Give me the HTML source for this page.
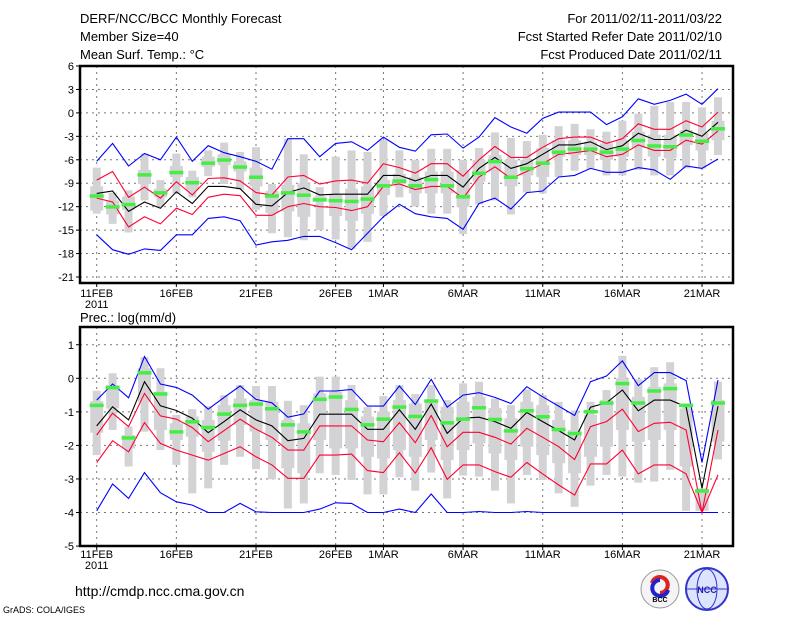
<!DOCTYPE html>
<html><head><meta charset="utf-8"><style>
html,body{margin:0;padding:0;background:#fff;}
svg{display:block;font-family:"Liberation Sans",sans-serif;}
</style></head><body>
<svg id="c" width="800" height="618" viewBox="0 0 800 618">
<rect width="800" height="618" fill="#fff"/>
<g font-size="13" fill="#000">
<text x="80" y="23">DERF/NCC/BCC Monthly Forecast</text>
<text x="80" y="41">Member Size=40</text>
<text x="80" y="59">Mean Surf. Temp.: °C</text>
<text x="722" y="23" text-anchor="end">For 2011/02/11-2011/03/22</text>
<text x="722" y="41" text-anchor="end">Fcst Started Refer Date 2011/02/10</text>
<text x="722" y="59" text-anchor="end">Fcst Produced Date 2011/02/11</text>
<text x="80" y="322">Prec.: log(mm/d)</text>
<text x="75" y="596" font-size="14">http://cmdp.ncc.cma.gov.cn</text>
<text x="3" y="613" font-size="9">GrADS: COLA/IGES</text>
</g>
<g>
<circle cx="660" cy="589" r="19" fill="#f4f4f4" stroke="#999"/>
<path d="M652 583 a8 8 0 1 1 8 10" fill="none" stroke="#d22" stroke-width="4"/>
<path d="M668 590 a8 8 0 1 1 -8 -10" fill="none" stroke="#22c" stroke-width="4"/>
<text x="660" y="602" font-size="7" text-anchor="middle" font-weight="bold">BCC</text>
</g>
<g>
<circle cx="707" cy="589" r="21" fill="#dde4ff" stroke="#33c" stroke-width="2"/>
<ellipse cx="707" cy="589" rx="10" ry="20" fill="none" stroke="#33c"/>
<line x1="687" y1="589" x2="727" y2="589" stroke="#33c"/>
<text x="707" y="593" font-size="9" text-anchor="middle" fill="#22a" font-weight="bold">NCC</text>
</g>
<g id="top"></g>
<g id="bot"></g>
</svg>
<script>
const dayLabels=["11FEB","16FEB","21FEB","26FEB","1MAR","6MAR","11MAR","16MAR","21MAR"];
const dayTicks=[0,5,10,15,18,23,28,33,38];
const tempTicks=[6,3,0,-3,-6,-9,-12,-15,-18,-21];
const precTicks=[1,0,-1,-2,-3,-4,-5];
const tMean=[-10.3,-10.0,-12.6,-11.4,-12.2,-10.1,-11.6,-9.4,-9.4,-9.7,-11.7,-11.9,-10.2,-9.6,-10.5,-10.4,-10.4,-10.4,-8.0,-8.0,-8.7,-8.0,-8.0,-9.5,-7.1,-5.7,-7.1,-6.5,-5.3,-4.1,-4.1,-3.7,-4.7,-4.2,-2.6,-3.4,-3.4,-2.2,-3.0,-1.2];
const tRedHi=[-8.6,-7.5,-10.8,-9.5,-10.9,-8.8,-10.5,-8.4,-8.3,-8.7,-10.2,-10.5,-8.2,-8.0,-9.1,-8.7,-8.6,-9.0,-6.5,-7.0,-7.7,-6.5,-6.5,-8.1,-6.0,-4.3,-5.7,-5.7,-4.4,-3.3,-3.1,-3.1,-3.9,-3.3,-1.4,-2.1,-2.1,-1.0,-1.8,0.1];
const tRedLo=[-10.9,-11.4,-14.6,-13.3,-14.2,-12.2,-13.0,-10.8,-10.4,-10.6,-13.1,-13.1,-12.0,-11.6,-12.0,-12.1,-12.5,-12.0,-9.4,-9.1,-9.8,-9.4,-9.4,-10.9,-8.2,-6.9,-8.4,-7.5,-6.5,-5.3,-5.1,-4.8,-5.6,-5.3,-4.1,-4.8,-4.8,-3.5,-4.0,-2.3];
const tMax=[-6.2,-3.9,-6.8,-5.2,-6.0,-3.1,-6.2,-4.2,-5.1,-5.6,-6.2,-7.2,-3.3,-3.3,-5.6,-3.9,-3.7,-4.8,-3.1,-4.4,-4.9,-2.8,-2.7,-4.5,-3.1,-0.6,-1.8,-2.6,-0.7,0.1,0.1,0.1,-1.5,-0.5,1.8,1.1,1.6,2.4,1.1,3.1];
const tMin=[-15.6,-17.5,-18.1,-17.4,-17.6,-15.6,-15.6,-13.5,-13.3,-13.8,-16.9,-16.5,-16.3,-15.8,-15.8,-16.6,-17.5,-15.4,-13.3,-11.7,-12.9,-13.3,-13.5,-14.9,-11.6,-10.9,-12.3,-10.2,-10.0,-8.2,-8.0,-7.1,-7.6,-7.6,-7.0,-7.3,-8.5,-6.8,-7.1,-5.9];
const tObs=[-10.6,-12.0,-11.7,-7.9,-10.2,-7.6,-8.9,-6.4,-6.0,-6.9,-8.2,-10.6,-10.2,-10.5,-11.1,-11.2,-11.3,-11.0,-9.3,-8.7,-9.3,-8.5,-9.3,-10.7,-7.7,-6.2,-8.2,-7.1,-6.4,-5.0,-4.6,-4.6,-5.0,-4.6,-3.5,-4.2,-4.3,-2.8,-3.6,-2.0];
const tWhiskHi=[-7.0,-10.2,-9.9,-5.2,-8.6,-5.2,-7.4,-4.8,-3.8,-5.0,-4.4,-9.1,-3.3,-5.3,-9.5,-5.6,-4.8,-5.0,-3.4,-4.8,-6.0,-4.6,-4.6,-6.0,-4.5,-2.5,-3.2,-3.6,-2.8,-1.7,-1.4,-2.1,-2.4,-1.0,-0.1,0.9,1.4,1.4,0.7,2.0];
const tBoxHi=[-9.4,-11.2,-10.7,-7.3,-9.7,-6.8,-8.2,-5.6,-5.3,-6.2,-7.0,-10.0,-9.2,-9.0,-10.7,-10.5,-9.7,-9.4,-8.6,-7.8,-8.2,-7.5,-7.5,-7.3,-6.0,-5.4,-6.0,-6.0,-4.5,-3.5,-3.5,-3.7,-3.9,-3.5,-2.4,-2.8,-2.8,-2.2,-2.6,-1.0];
const tBoxLo=[-12.5,-13.0,-12.4,-9.1,-10.8,-8.2,-9.9,-6.9,-6.7,-7.5,-9.4,-12.8,-12.6,-13.3,-11.2,-13.2,-13.8,-12.9,-10.5,-9.1,-10.3,-10.3,-10.3,-12.0,-8.8,-7.5,-9.4,-8.0,-8.2,-5.6,-5.4,-5.4,-6.0,-5.6,-4.5,-5.6,-5.8,-4.1,-4.8,-3.5];
const tWhiskLo=[-12.9,-14.2,-15.3,-11.2,-12.0,-10.3,-10.8,-8.1,-9.1,-9.8,-12.4,-15.4,-15.9,-16.3,-15.0,-16.2,-17.4,-16.5,-13.2,-10.8,-12.0,-12.9,-12.9,-15.5,-11.7,-11.2,-13.0,-10.2,-10.3,-8.2,-7.4,-7.2,-8.0,-8.0,-7.3,-8.0,-8.0,-7.1,-7.1,-5.4];
const pMean=[-1.42,-0.85,-1.24,-0.10,-0.82,-0.96,-1.19,-1.62,-1.29,-0.94,-1.24,-1.42,-1.86,-1.79,-1.07,-1.07,-1.07,-1.52,-1.52,-0.94,-1.52,-0.77,-1.64,-1.19,-1.16,-1.29,-1.49,-1.02,-1.29,-1.56,-1.84,-0.86,-0.73,-0.35,-0.97,-0.65,-0.65,-0.85,-3.28,-0.83];
const pRedHi=[-1.69,-1.04,-1.44,-0.45,-1.12,-1.22,-1.47,-1.89,-1.56,-1.22,-1.52,-1.76,-2.14,-2.14,-1.42,-1.42,-1.42,-1.84,-1.89,-1.32,-1.92,-1.11,-2.04,-1.61,-1.61,-1.76,-1.96,-1.49,-1.76,-2.04,-2.42,-1.44,-1.29,-0.92,-1.59,-1.34,-1.31,-1.54,-4.0,-1.54];
const pRedLo=[-2.51,-1.86,-2.19,-1.32,-1.94,-2.14,-2.29,-2.44,-2.24,-2.04,-2.34,-2.58,-2.98,-2.98,-2.29,-2.29,-2.26,-2.75,-2.81,-2.22,-2.83,-2.07,-3.01,-2.58,-2.58,-2.78,-2.95,-2.51,-2.85,-3.18,-3.48,-2.55,-2.55,-2.14,-2.85,-2.58,-2.58,-2.85,-4.0,-2.88];
const pMax=[-0.65,-0.17,-0.58,0.65,-0.17,-0.27,-0.50,-0.92,-0.57,-0.23,-0.63,-0.73,-1.16,-1.06,-0.38,-0.38,-0.33,-0.83,-0.83,-0.23,-0.78,-0.03,-0.86,-0.50,-0.43,-0.57,-0.75,-0.25,-0.55,-0.83,-1.11,-0.10,0.07,0.52,-0.22,0.17,0.17,-0.07,-2.51,-0.05];
const pMin=[-3.95,-3.15,-3.58,-2.81,-3.41,-3.68,-3.78,-4.0,-4.0,-3.73,-3.98,-4.0,-4.0,-4.0,-3.9,-3.71,-3.73,-4.0,-4.0,-3.9,-4.0,-3.45,-4.0,-4.0,-3.97,-4.0,-4.0,-3.97,-4.0,-4.0,-4.0,-4.0,-4.0,-4.0,-4.0,-4.0,-4.0,-4.0,-4.0,-4.0];
const pObs=[-0.80,-0.27,-1.77,0.17,-0.46,-1.59,-1.29,-1.46,-1.06,-0.80,-0.76,-0.90,-1.38,-1.59,-0.62,-0.55,-0.92,-1.38,-1.21,-0.85,-1.13,-0.67,-1.32,-1.21,-0.87,-1.22,-1.56,-0.96,-1.14,-1.52,-1.64,-0.99,-0.73,-0.15,-0.73,-0.37,-0.30,-0.80,-3.35,-0.73];
const pWhiskHi=[-0.37,0.15,-1.44,0.63,0.30,-1.09,-0.92,-0.83,-0.50,-0.20,-0.23,-0.23,-0.67,-0.80,0.05,0.05,-0.20,-0.86,-0.53,-0.20,-0.47,-0.20,-0.65,-0.15,-0.10,-0.60,-0.80,-0.33,-0.50,-0.70,-0.96,-0.70,-0.35,0.67,-0.03,0.33,0.48,-0.75,-3.28,-0.10];
const pBoxHi=[-0.68,-0.20,-1.69,0.30,-0.40,-1.34,-1.14,-1.24,-0.80,-0.60,-0.65,-0.70,-1.24,-1.34,-0.45,-0.40,-0.65,-1.14,-0.99,-0.65,-0.75,-0.65,-0.85,-0.70,-0.55,-0.89,-1.19,-0.70,-0.80,-1.24,-1.54,-1.09,-0.65,0.0,-0.55,-0.25,-0.15,-0.90,-3.30,-0.65];
const pBoxLo=[-1.62,-0.90,-2.09,-0.70,-1.54,-1.84,-1.74,-2.19,-1.86,-1.39,-1.59,-1.84,-2.68,-2.83,-1.84,-2.09,-2.09,-2.34,-2.39,-2.14,-2.34,-1.84,-2.44,-2.14,-1.94,-2.24,-2.44,-2.04,-2.29,-2.53,-2.83,-2.34,-2.04,-1.54,-1.89,-1.84,-1.54,-2.63,-3.95,-1.89];
const pWhiskLo=[-2.29,-1.54,-2.63,-1.59,-2.14,-2.58,-3.43,-3.28,-2.58,-2.34,-2.71,-3.01,-3.88,-3.73,-2.83,-2.88,-3.03,-3.46,-3.46,-2.95,-3.35,-2.81,-3.58,-2.90,-2.93,-3.35,-3.73,-2.88,-3.03,-3.43,-3.83,-3.20,-2.88,-2.93,-3.11,-3.08,-2.73,-3.95,-3.95,-2.42];

const NS='http://www.w3.org/2000/svg';
const X0=80,X1=733;
const xD=d=>96.7+15.93*d;
function mk(p,tag,a){const e=document.createElementNS(NS,tag);for(const k in a)e.setAttribute(k,a[k]);p.appendChild(e);return e;}
function panel(g,top,bot,yv,ticks,data,lblY){
  // grid
  ticks.forEach(t=>{const y=yv(t);
    if(y>top+1&&y<bot-1){const l=mk(g,'line',{x1:X0,x2:X1,y1:y,y2:y,stroke:'#777','stroke-dasharray':'2,4','stroke-width':1});
    
    }
    const tk=mk(g,'line',{x1:X0-4,x2:X0,y1:y,y2:y,stroke:'#000'});
    
    
    const tx=mk(g,'text',{x:X0-6,y:y+4,'text-anchor':'end','font-size':11});
    tx.textContent=t;
    
    
  });
  dayTicks.forEach((d,i)=>{const x=xD(d);
    const l=mk(g,'line',{x1:x,x2:x,y1:top,y2:bot,stroke:'#777','stroke-dasharray':'2,4'});
    
    
    const tk=mk(g,'line',{x1:x,x2:x,y1:bot,y2:bot+4,stroke:'#000'});
    
    
    const tx=mk(g,'text',{x:x,y:lblY,'text-anchor':'middle','font-size':11});
    tx.textContent=dayLabels[i];
    
    
  });
  const yr=mk(g,'text',{x:xD(0),y:lblY+11,'text-anchor':'middle','font-size':11});
  yr.textContent='2011';
  
  
  // boxes
  for(let d=0;d<40;d++){const x=xD(d);
    const w=mk(g,'rect',{x:x-4,width:8,y:yv(data.wh[d]),height:Math.max(1,yv(data.wl[d])-yv(data.wh[d])),fill:'#d3d3d6'});
    
    
    const b=mk(g,'rect',{x:x-6.5,width:13,y:yv(data.bh[d]),height:Math.max(1,yv(data.bl[d])-yv(data.bh[d])),fill:'#d3d3d6'});
    
    
  }
  const line=(arr,col,name)=>{const p=mk(g,'polyline',{points:arr.map((v,d)=>xD(d).toFixed(1)+','+yv(v).toFixed(1)).join(' '),fill:'none',stroke:col,'stroke-width':1.1});
    
    };
  line(data.mx,'#0000ff','max-line');line(data.mn,'#0000ff','min-line');
  line(data.rh,'#ff0033','upper-std-line');line(data.rl,'#ff0033','lower-std-line');
  line(data.m,'#000','ensemble-mean-line');
  for(let d=0;d<40;d++){const r=mk(g,'rect',{x:xD(d)-7,width:14,y:yv(data.o[d])-1.5,height:3.5,fill:'#44ee44'});
    
    }
  const f=mk(g,'rect',{x:X0,y:top,width:X1-X0,height:bot-top,fill:'none',stroke:'#000','stroke-width':2.5});
  
  
}
const yT=v=>66+(6-v)*7.815;
const yB=v=>378.3-v*33.55;
panel(document.getElementById('top'),66,283,yT,tempTicks,{m:tMean,rh:tRedHi,rl:tRedLo,mx:tMax,mn:tMin,o:tObs,wh:tWhiskHi,bh:tBoxHi,bl:tBoxLo,wl:tWhiskLo},297);
panel(document.getElementById('bot'),327,546,yB,precTicks,{m:pMean,rh:pRedHi,rl:pRedLo,mx:pMax,mn:pMin,o:pObs,wh:pWhiskHi,bh:pBoxHi,bl:pBoxLo,wl:pWhiskLo},558);
</script>
</body></html>
